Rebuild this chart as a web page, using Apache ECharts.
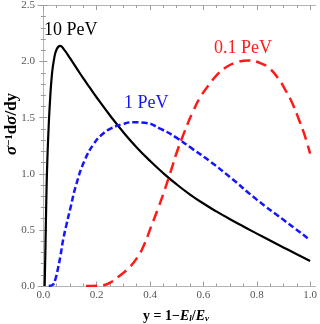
<!DOCTYPE html>
<html><head><meta charset="utf-8">
<script src="https://cdn.jsdelivr.net/npm/echarts@6/dist/echarts.min.js"></script>
<style>html,body{margin:0;padding:0;background:#fff}#c{width:320px;height:324px}</style>
</head><body><div id="c"></div>
<script>
const xMajor = [0, 0.2, 0.4, 0.6, 0.8, 1.0];
const xMinor = [0.05,0.1,0.15,0.25,0.3,0.35,0.45,0.5,0.55,0.65,0.7,0.75,0.85,0.9,0.95];
const yTicks = [0, 0.5, 1.0, 1.5, 2.0, 2.5];
const curve10PeV = [[0.005,0],[0.008,0.35],[0.011,0.75],[0.015,1.12],[0.02,1.42],[0.025,1.65],[0.032,1.88],[0.04,2.02],[0.05,2.11],[0.063,2.14],[0.08,2.1],[0.1,2.03],[0.125,1.94],[0.15,1.85],[0.175,1.765],[0.2,1.68],[0.25,1.52],[0.3,1.37],[0.35,1.235],[0.4,1.115],[0.45,1.005],[0.5,0.905],[0.55,0.815],[0.6,0.735],[0.65,0.663],[0.7,0.595],[0.75,0.53],[0.8,0.467],[0.85,0.405],[0.9,0.344],[0.95,0.283],[1.0,0.222]];
const curve1PeV = [[0.02,0],[0.035,0.01],[0.045,0.06],[0.056,0.17],[0.065,0.28],[0.074,0.41],[0.087,0.55],[0.1,0.68],[0.124,0.91],[0.155,1.12],[0.19,1.27],[0.22,1.35],[0.25,1.4],[0.3,1.445],[0.34,1.46],[0.38,1.455],[0.44,1.4],[0.5,1.32],[0.56,1.22],[0.62,1.12],[0.7,0.97],[0.8,0.77],[0.9,0.59],[1.0,0.41]];
const curve01PeV = [[0.16,0],[0.22,0.005],[0.25,0.03],[0.28,0.08],[0.32,0.16],[0.354,0.26],[0.38,0.38],[0.404,0.53],[0.43,0.69],[0.454,0.85],[0.48,1.04],[0.5,1.19],[0.53,1.38],[0.56,1.55],[0.59,1.69],[0.623,1.8],[0.65,1.88],[0.685,1.95],[0.72,1.99],[0.77,2.01],[0.81,1.99],[0.847,1.94],[0.88,1.85],[0.909,1.74],[0.935,1.62],[0.96,1.47],[0.98,1.34],[1.0,1.18]];

const frame = '#b4b4b4';
const tickCol = '#9a9a9a';
const serif = 'Liberation Serif, Times New Roman, serif';
function xAx(pos, vals, len, labels) {
  return {type:'value', min:-0.02, max:1.02, position:pos,
    axisLine:{show:true, lineStyle:{color:frame, width:1}},
    axisTick:{show:true, inside:true, length:len, customValues:vals, lineStyle:{color:tickCol}},
    axisLabel:{show:labels, customValues:vals, margin:4, color:'#555', fontFamily:serif, fontSize:11,
      formatter:v=>v.toFixed(1)},
    splitLine:{show:false}};
}
function yAx(pos, labels) {
  return {type:'value', min:0, max:2.5, interval:0.5, position:pos,
    axisLine:{show:true, lineStyle:{color:frame, width:1}},
    axisTick:{show:true, inside:true, length:4, lineStyle:{color:tickCol}},
    minorTick:{show:true, splitNumber:5, length:2.5, lineStyle:{color:tickCol}},
    axisLabel:{show:labels, margin:3, color:'#555', fontFamily:serif, fontSize:11,
      formatter:v=>v.toFixed(1)},
    splitLine:{show:false}, minorSplitLine:{show:false}};
}
const chart = echarts.init(document.getElementById('c'), null, {renderer:'canvas'});
chart.setOption({
  animation:false,
  grid:{left:38, right:3, top:5, bottom:38},
  xAxis:[xAx('bottom', xMajor, 4.5, true), xAx('bottom', xMinor, 2.5, false),
         xAx('top', xMajor, 4.5, false), xAx('top', xMinor, 2.5, false)],
  yAxis:[yAx('left', true), yAx('right', false)],
  series:[
    {type:'line', data:curve10PeV, showSymbol:false, smooth:true,
     lineStyle:{color:'#000', width:2.2}},
    {type:'line', data:curve1PeV, showSymbol:false, smooth:true,
     lineStyle:{color:'#1414ff', width:2.5, type:[6,3]}},
    {type:'line', data:curve01PeV, showSymbol:false, smooth:true,
     lineStyle:{color:'#ff1a1a', width:2.5, type:[11,6]}}
  ],
  graphic:[
    {type:'text', left:44, top:21, style:{text:'10 PeV', fill:'#000', font:'18px '+serif}},
    {type:'text', left:124, top:94, style:{text:'1 PeV', fill:'#1414ff', font:'18px '+serif}},
    {type:'text', left:214, top:39, style:{text:'0.1 PeV', fill:'#ff1a1a', font:'18px '+serif}},
    {type:'text', x:176, y:316, style:{
      text:'{b|y = 1\u2212}{i|E}{s|l}{b|/}{i|E}{s|\u03bd}', align:'center', verticalAlign:'middle',
      rich:{b:{font:'bold 14px '+serif, fill:'#000'}, i:{font:'italic bold 14px '+serif, fill:'#000'},
            s:{font:'italic bold 9px '+serif, fill:'#000', verticalAlign:'bottom', padding:[5,0,0,0]}}}},
    {type:'text', x:12, y:124, rotation:Math.PI/2, style:{
      text:'{i|\u03c3}{s|\u22121}{b|d}{i|\u03c3}{b|/dy}', align:'center', verticalAlign:'middle',
      rich:{b:{font:'bold 17px '+serif, fill:'#000'}, i:{font:'italic bold 17px '+serif, fill:'#000'},
            s:{font:'bold 11px '+serif, fill:'#000', verticalAlign:'top'}}}}
  ]
});
</script></body></html>
